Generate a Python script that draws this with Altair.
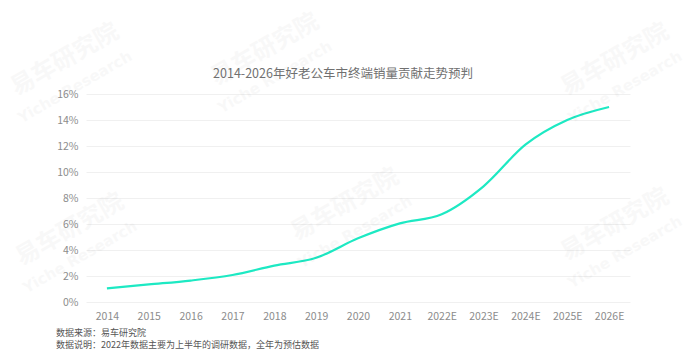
import altair as alt
import pandas as pd

years = ["2014", "2015", "2016", "2017", "2018", "2019", "2020", "2021",
         "2022E", "2023E", "2024E", "2025E", "2026E"]
share = [0.0105, 0.0135, 0.0165, 0.0208, 0.028, 0.034, 0.049, 0.0605,
         0.0675, 0.089, 0.121, 0.140, 0.150]

title_text = "2014-2026年好老公车市终端销量贡献走势预判"
footer_source = "数据来源：易车研究院"
footer_note = "数据说明：2022年数据主要为上半年的调研数据，全年为预估数据"
wm_cn_text = "易车研究院"
wm_en_text = "Yiche Research"

df = pd.DataFrame({"year": years, "share": share})
FONT = "Noto Sans CJK SC"
W, H = 544, 208
L, T = 86, 94

line = alt.Chart(df).mark_line(color="#1de9c3", strokeWidth=2.2, interpolate="monotone").encode(
    x=alt.X("year:N", sort=years, title=None,
            scale=alt.Scale(paddingInner=0, paddingOuter=0.5),
            axis=alt.Axis(labelAngle=0, labelFont=FONT, labelFontSize=10.5,
                          labelColor="#8c8c8c", labelPadding=9, ticks=False,
                          domain=False, grid=False)),
    y=alt.Y("share:Q", title=None,
            scale=alt.Scale(domain=[0, 0.16], nice=False),
            axis=alt.Axis(format=".0%", values=[i * 0.02 for i in range(9)],
                          labelFont=FONT, labelFontSize=10.5, labelColor="#8c8c8c",
                          labelPadding=8, ticks=False, domain=False,
                          grid=True, gridColor="#f0f0f0", gridWidth=1)),
)


def text_at(t, x, y, **kw):
    return alt.Chart(pd.DataFrame({"t": [t]})).mark_text(font=kw.pop("font", FONT), **kw).encode(
        x=alt.value(x), y=alt.value(y), text="t:N")


title = text_at(title_text, 343 - L, 74 - T, fontSize=12.5, color="#707070",
                align="center", baseline="middle")
foot1 = text_at(footer_source, 56 - L, 332.5 - T, fontSize=9, color="#555555",
                align="left", baseline="middle")
foot2 = text_at(footer_note, 56 - L, 344.5 - T, fontSize=9, color="#555555",
                align="left", baseline="middle")

wm_pos = [(65, 60), (265, 50), (615, 60), (70, 230), (345, 205), (615, 225)]
wm_layers = []
for (px, py) in wm_pos:
    wm_layers.append(text_at(wm_cn_text, px - L, py - T, fontSize=24, fontWeight="bold",
                             color="#000000", opacity=0.025, angle=330,
                             align="center", baseline="middle"))
    wm_layers.append(text_at(wm_en_text, px + 10 - L, py + 27 - T, font="DejaVu Sans",
                             fontSize=15, fontWeight="bold", color="#000000",
                             opacity=0.025, angle=330, align="center", baseline="middle"))

chart = alt.layer(line, *wm_layers, title, foot1, foot2).properties(
    width=W, height=H,
    autosize=alt.AutoSizeParams(type="none"),
    padding={"left": L, "top": T, "right": 700 - L - W, "bottom": 354 - T - H},
).configure(background="white").configure_view(stroke=None, strokeWidth=0)

chart.save("out.html", embed_options={"renderer": "svg", "actions": False})
